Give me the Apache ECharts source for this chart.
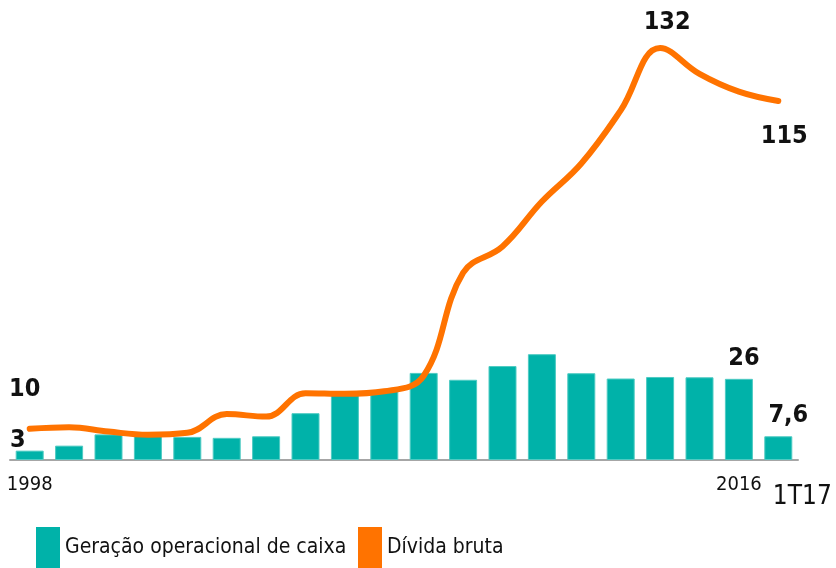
<!DOCTYPE html>
<html>
<head>
<meta charset="utf-8">
<script src="https://cdn.jsdelivr.net/npm/echarts@6/dist/echarts.min.js"></script>
<style>
html, body { margin: 0; padding: 0; background: #fff; }
#main { width: 836px; height: 568px; }
</style>
</head>
<body>
<div id="main"></div>
<script>
// categorias (anos + 1o trimestre 2017)
var categories = ['1998', '1999', '2000', '2001', '2002', '2003', '2004', '2005', '2006', '2007',
    '2008', '2009', '2010', '2011', '2012', '2013', '2014', '2015', '2016', '1T17'];
// geração operacional de caixa
var geracao = [3, 4.6, 8.2, 7.8, 7.4, 7.1, 7.6, 15, 21, 22.4, 27.9, 25.7, 30.1, 33.9, 27.8, 26.1, 26.6, 26.5, 26, 7.6];
// dívida bruta
var divida = [10, 10.5, 9.1, 8.1, 8.7, 14.7, 13.9, 21.4, 21.2, 22, 27, 60, 68.4, 82.8, 95, 112, 132, 123.7, 118, 115];
// rótulos do eixo x que aparecem
var shownTicks = ['1998', '2016', '1T17'];

var FONT = '"Liberation Sans Narrow", "DejaVu Sans Condensed", sans-serif';
var TEAL = '#00b2a9';
var ORANGE = '#ff7300';

function fmt(v) { return String(v).replace('.', ','); }

// quais pontos levam rótulo
var barLabels = {
    0: { position: 'top', distance: -2, offset: [-12, 0] },
    18: { position: 'top', distance: 8, offset: [5, 0] },
    19: { position: 'top', distance: 8, offset: [10, 0] }
};
var lineLabels = {
    0: { position: 'top', distance: 26, offset: [-5, 0] },
    16: { position: 'top', distance: 12, offset: [7, 0] },
    19: { position: 'bottom', distance: 22, offset: [6, 0] }
};

var labelStyle = {
    show: true,
    fontFamily: FONT,
    fontWeight: 'bold',
    fontSize: 25,
    color: '#111',
    formatter: function (p) { return fmt(p.value); }
};

function withLabels(values, labels) {
    return values.map(function (v, i) {
        if (!labels[i]) return v;
        return { value: v, label: Object.assign({}, labelStyle, labels[i]) };
    });
}

var legendText = { fontFamily: FONT, fontSize: 21, color: '#111' };

var option = {
    animation: false,
    grid: { left: 10, right: 38, top: 23, bottom: 108 },
    legend: [
        {
            left: 36, top: 527, padding: 0,
            data: ['Geração operacional de caixa'],
            icon: 'rect', itemWidth: 24, itemHeight: 41,
            itemStyle: { borderWidth: 0 },
            textStyle: legendText
        },
        {
            left: 358, top: 527, padding: 0,
            data: ['Dívida bruta'],
            icon: 'rect', itemWidth: 24, itemHeight: 41,
            itemStyle: { borderWidth: 0 },
            textStyle: legendText
        }
    ],
    xAxis: {
        type: 'category',
        data: categories,
        axisTick: { show: false },
        axisLine: { lineStyle: { color: '#a6a6a6', width: 2 } },
        axisLabel: {
            interval: 0,
            margin: 15,
            fontFamily: FONT,
            fontSize: 20,
            color: '#111',
            formatter: function (v) {
                if (shownTicks.indexOf(v) < 0) return '';
                if (v === '1T17') return '{b|' + v + '}';
                return v;
            },
            rich: {
                b: { fontFamily: FONT, fontSize: 26, color: '#111', padding: [9, 0, 0, 48] }
            }
        }
    },
    yAxis: {
        type: 'value',
        min: 0,
        max: 140,
        show: false,
        splitLine: { show: false }
    },
    series: [
        {
            name: 'Geração operacional de caixa',
            type: 'bar',
            barWidth: 28,
            itemStyle: { color: TEAL, borderColor: '#4ecbc3', borderWidth: 1 },
            data: withLabels(geracao, barLabels)
        },
        {
            name: 'Dívida bruta',
            type: 'line',
            smooth: 0.4,
            symbol: 'circle',
            symbolSize: 1,
            showSymbol: true,
            lineStyle: { color: ORANGE, width: 6, cap: 'round' },
            itemStyle: { color: ORANGE },
            data: withLabels(divida, lineLabels)
        }
    ]
};

var myChart = echarts.init(document.getElementById('main'));
myChart.setOption(option);
</script>
</body>
</html>
